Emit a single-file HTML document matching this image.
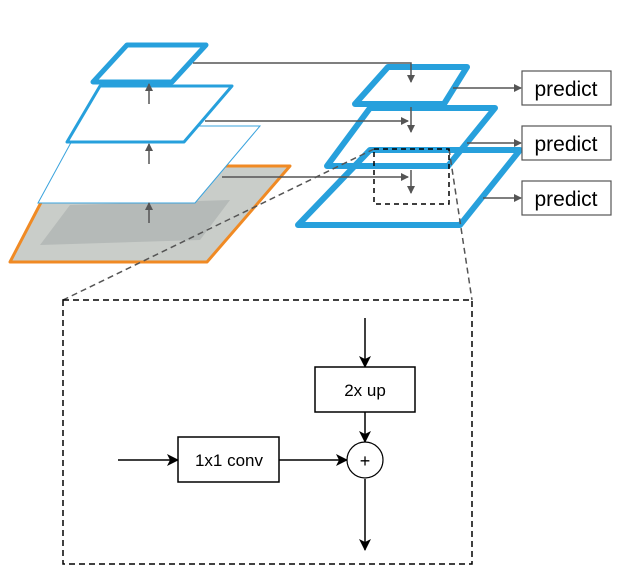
<!DOCTYPE html>
<html><head><style>body{margin:0;background:#fff}svg{display:block}</style></head>
<body>
<svg width="619" height="581" viewBox="0 0 619 581" xmlns="http://www.w3.org/2000/svg" font-family="Liberation Sans, sans-serif">
<defs>
<marker id="g" markerWidth="8" markerHeight="8" refX="7" refY="4" orient="auto" markerUnits="userSpaceOnUse"><path d="M0,0 L8,4 L0,8 Z" fill="#555"/></marker>
<marker id="k" markerWidth="12" markerHeight="12" refX="11" refY="6" orient="auto" markerUnits="userSpaceOnUse"><path d="M0,0 L12,6 L0,12 L3,6 Z" fill="#000"/></marker>
</defs>
<!-- orange image plane -->
<polygon points="60,166 290,166 207,262 10,262" fill="#c9cdc9" stroke="#f08a24" stroke-width="3" stroke-linejoin="round"/>
<polygon points="70,205 230,200 200,240 40,245" fill="#b5bab8"/>
<!-- thin layer -->
<polygon points="80,126 260,126 195,203 38,203" fill="#fff" stroke="#3aa3dd" stroke-width="1"/>
<polygon points="100,86 232,86 184,142 67,142" fill="#fff" stroke="#27a0dc" stroke-width="3" stroke-linejoin="round"/>
<polygon points="127,45 206,45 172,82 93,82" fill="#fff" stroke="#27a0dc" stroke-width="5" stroke-linejoin="round"/>
<g stroke="#555" stroke-width="1.5" fill="none">
<line x1="149" y1="104" x2="149" y2="84" marker-end="url(#g)"/>
<line x1="149" y1="164" x2="149" y2="144" marker-end="url(#g)"/>
<line x1="149" y1="223" x2="149" y2="203" marker-end="url(#g)"/>
</g>
<!-- right pyramid -->
<polygon points="370,150 520,150 460,225 298,225" fill="none" stroke="#27a0dc" stroke-width="6" stroke-linejoin="round"/>
<polygon points="370,108 495,108 448,166 327,166" fill="none" stroke="#27a0dc" stroke-width="6" stroke-linejoin="round"/>
<polygon points="388,67 467,67 444,104 355,104" fill="none" stroke="#27a0dc" stroke-width="6" stroke-linejoin="round"/>
<g stroke="#555" stroke-width="1.5" fill="none">
<polyline points="193,63 411,63 411,82" marker-end="url(#g)"/>
<line x1="205" y1="121" x2="408" y2="121" marker-end="url(#g)"/>
<line x1="411" y1="107" x2="411" y2="132" marker-end="url(#g)"/>
<line x1="222" y1="177" x2="408" y2="177" marker-end="url(#g)"/>
<line x1="411" y1="170" x2="411" y2="193" marker-end="url(#g)"/>
<line x1="453" y1="88" x2="521" y2="88" marker-end="url(#g)"/>
<line x1="467" y1="143" x2="521" y2="143" marker-end="url(#g)"/>
<line x1="483" y1="198" x2="521" y2="198" marker-end="url(#g)"/>
</g>
<g fill="#fff" stroke="#555" stroke-width="1.2">
<rect x="522" y="71" width="89" height="34"/>
<rect x="522" y="126" width="89" height="34"/>
<rect x="522" y="181" width="89" height="34"/>
</g>
<g font-size="21" fill="#000" text-anchor="middle">
<text x="566" y="96">predict</text>
<text x="566" y="151">predict</text>
<text x="566" y="206">predict</text>
</g>
<!-- dashed -->
<g stroke="#555" stroke-width="1.5" fill="none" stroke-dasharray="6,4">
<line x1="374" y1="149" x2="63" y2="300"/>
<line x1="449" y1="149" x2="472" y2="300"/>
</g>
<rect x="374" y="149" width="75" height="55" fill="none" stroke="#000" stroke-width="1.5" stroke-dasharray="5,4"/>
<rect x="63" y="300" width="409" height="264" fill="none" stroke="#000" stroke-width="1.5" stroke-dasharray="6,4"/>
<!-- detail -->
<g stroke="#000" stroke-width="1.5" fill="none">
<line x1="365" y1="318" x2="365" y2="367" marker-end="url(#k)"/>
<line x1="365" y1="412" x2="365" y2="442" marker-end="url(#k)"/>
<line x1="118" y1="460" x2="178" y2="460" marker-end="url(#k)"/>
<line x1="279" y1="460" x2="347" y2="460" marker-end="url(#k)"/>
<line x1="365" y1="479" x2="365" y2="550" marker-end="url(#k)"/>
<rect x="315" y="367" width="100" height="45" fill="#fff"/>
<rect x="178" y="437" width="101" height="45" fill="#fff"/>
<circle cx="365" cy="460" r="18" fill="#fff" stroke-width="1.2"/>
</g>
<g font-size="17" text-anchor="middle" fill="#000">
<text x="365" y="396">2x up</text>
<text x="229" y="466">1x1 conv</text>
<text x="365" y="467" font-size="18">+</text>
</g>
</svg>
</body></html>
